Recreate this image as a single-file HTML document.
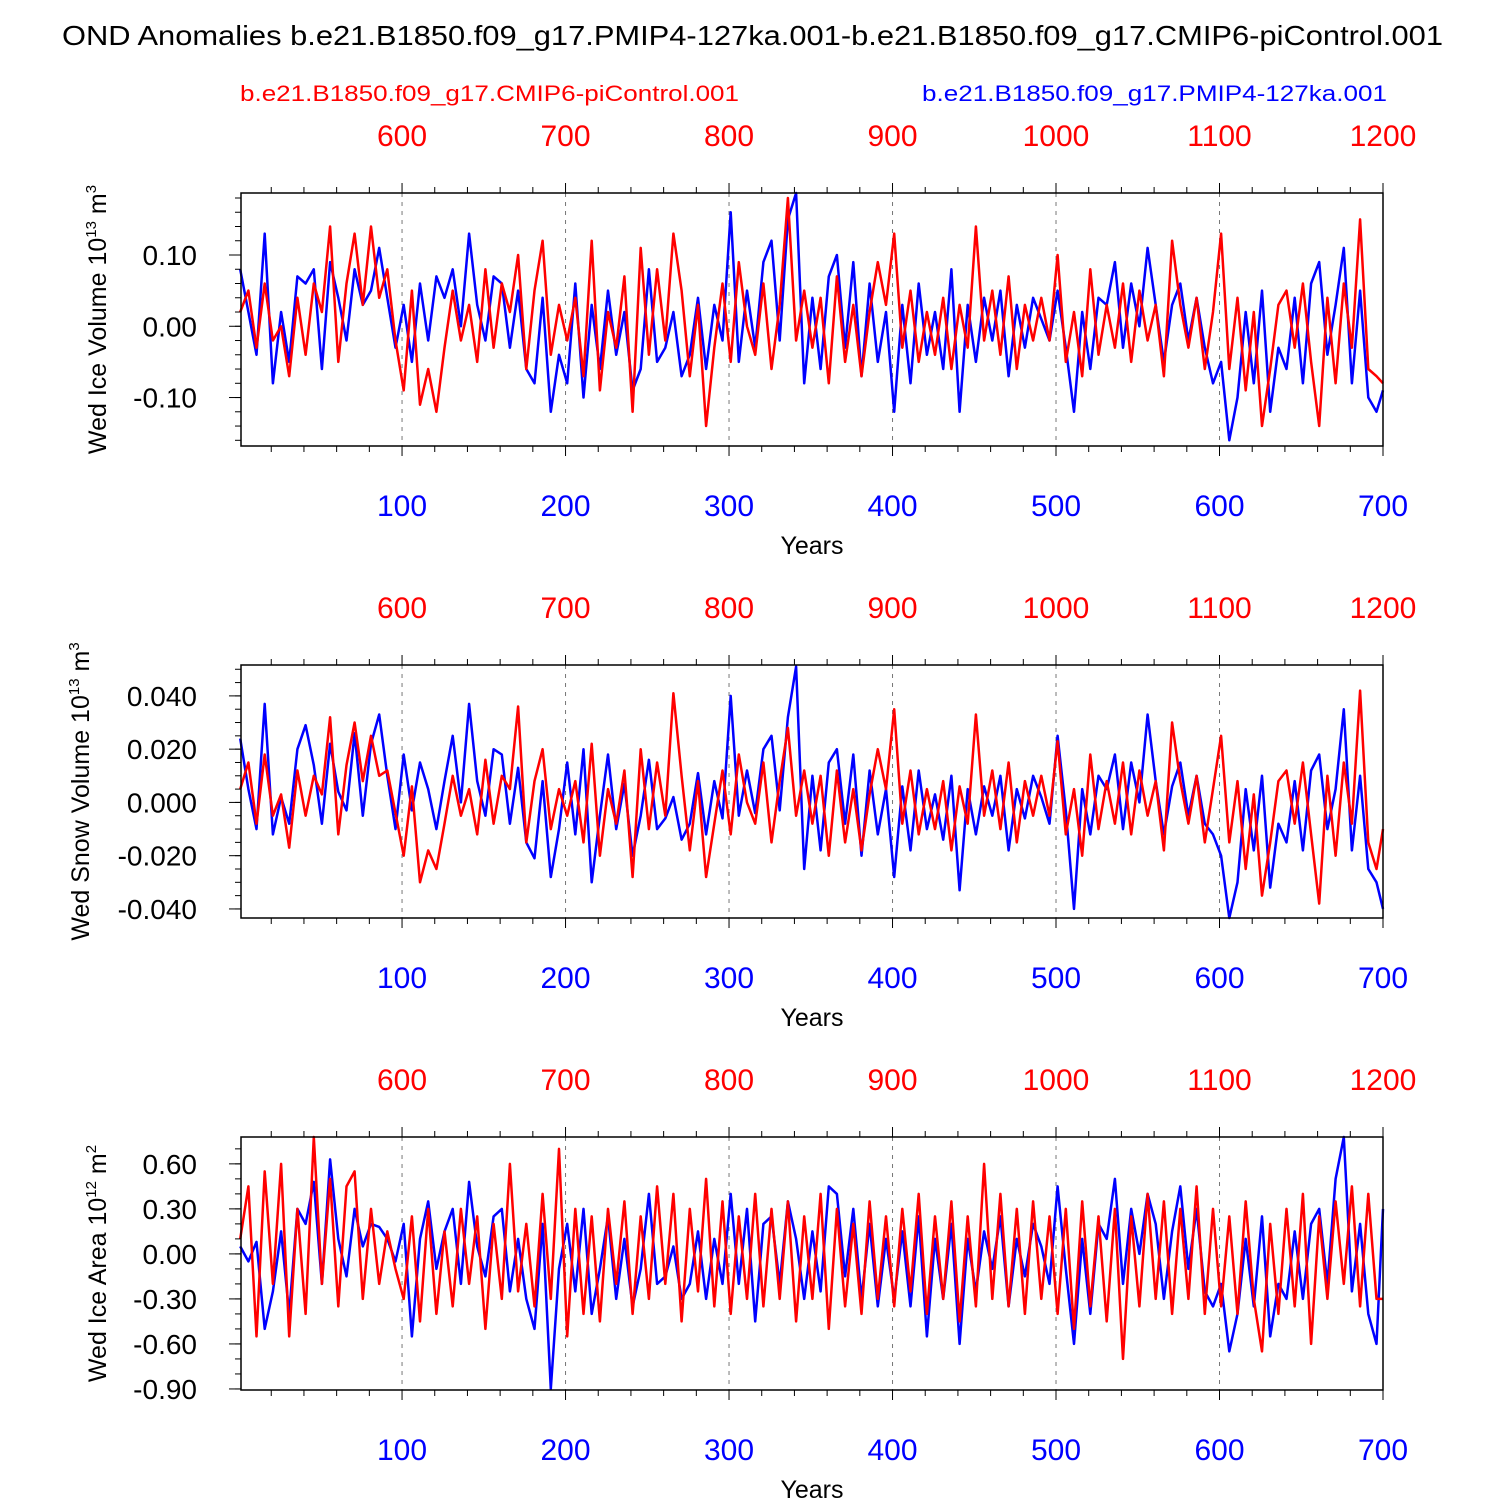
<!DOCTYPE html>
<html><head><meta charset="utf-8"><style>
body{margin:0;background:#fff;}
svg{display:block;font-family:"Liberation Sans",Arial,sans-serif;}
</style></head><body>
<svg id="c" width="1500" height="1500" viewBox="0 0 1500 1500">
<text x="62" y="45" font-size="28" textLength="1381" lengthAdjust="spacingAndGlyphs">OND Anomalies b.e21.B1850.f09_g17.PMIP4-127ka.001-b.e21.B1850.f09_g17.CMIP6-piControl.001</text>
<text x="240" y="101" font-size="22" fill="#ff0000" textLength="499" lengthAdjust="spacingAndGlyphs">b.e21.B1850.f09_g17.CMIP6-piControl.001</text>
<text x="922" y="101" font-size="22" fill="#0000ff" textLength="465" lengthAdjust="spacingAndGlyphs">b.e21.B1850.f09_g17.PMIP4-127ka.001</text>
</svg>
<script>
const iceBlue=[8,2,-4,13,-8,2,-5,7,6,8,-6,9,4,-2,8,3,5,11,4,-3,
3,-5,6,-2,7,4,8,0,13,3,-2,7,6,-3,5,-6,-8,4,-12,-4,
-8,6,-10,3,-6,5,-4,2,-9,-6,8,-5,-3,2,-7,-4,4,-6,3,-2,
16,-5,5,-3,9,12,-2,15,19,-8,4,-6,7,10,-3,9,-7,6,-5,2,
-12,3,-8,6,-4,2,-6,8,-12,3,-5,4,-2,5,-7,3,-3,4,1,-2,
5,-3,-12,2,-6,4,3,9,-3,6,0,11,3,-5,3,6,-2,4,-3,-8,
-5,-16,-10,2,-8,5,-12,-3,-6,4,-8,6,9,-4,3,11,-8,5,-10,-12,-9];
const iceRed=[2,5,-3,6,-2,0,-7,4,-4,6,2,14,-5,6,13,3,14,4,8,-2,
-9,5,-11,-6,-12,-3,5,-2,3,-5,8,-3,6,2,10,-6,5,12,-4,3,
-2,4,-7,12,-9,2,-3,7,-12,11,-4,8,-2,13,5,-7,3,-14,-3,6,
-5,9,0,-4,6,-6,3,18,-2,5,-3,4,-8,7,-5,3,-7,2,9,3,
13,-3,5,-5,2,-4,4,-6,3,-3,14,-2,5,-4,7,-6,3,-2,4,-2,
10,-5,2,-7,8,-4,3,-3,6,-5,5,-2,3,-7,12,3,-3,4,-6,2,
13,-6,4,-9,2,-14,-6,3,5,-3,6,-5,-14,4,-8,6,-3,15,-6,-7,-8];
const snowBlue=[24,5,-10,37,-12,2,-8,20,29,14,-8,22,4,-3,26,-5,22,33,10,-10,
18,-3,15,5,-10,8,25,0,37,8,-5,20,18,-8,13,-15,-21,8,-28,-10,
15,-12,20,-30,-5,18,-10,7,-20,-5,16,-10,-6,2,-14,-8,11,-12,8,-6,
40,-5,12,-4,20,25,-3,32,51,-25,10,-18,15,20,-8,18,-20,12,-12,5,
-28,6,-18,12,-10,3,-14,10,-33,5,-12,6,-5,10,-18,5,-6,10,2,-8,
25,-3,-40,5,-12,10,5,18,-10,15,0,33,8,-12,6,15,-5,10,-8,-12,
-20,-44,-30,5,-18,10,-32,-8,-15,8,-18,12,18,-10,5,35,-18,10,-25,-30,-40];
const snowRed=[5,15,-8,18,-5,3,-17,12,-5,10,3,32,-12,14,30,8,25,10,12,-4,
-20,6,-30,-18,-25,-8,10,-5,5,-12,16,-8,10,5,36,-15,8,20,-10,5,
-5,8,-15,22,-20,5,-8,12,-28,20,-10,15,-5,41,10,-18,8,-28,-8,12,
-12,18,0,-8,15,-15,8,28,-5,12,-8,10,-20,12,-15,5,-18,3,20,5,
35,-8,12,-12,5,-10,8,-18,6,-8,33,-5,12,-10,15,-15,8,-5,10,-5,
23,-12,5,-20,18,-10,8,-8,15,-12,12,-5,8,-18,30,8,-8,10,-15,5,
25,-15,8,-25,3,-35,-15,8,12,-8,15,-12,-38,10,-20,15,-8,42,-15,-25,-10];
const areaBlue=[5,-5,8,-50,-25,15,-40,30,20,48,-20,63,10,-15,30,5,20,18,10,-5,
20,-55,10,35,-10,15,30,-20,48,5,-15,25,30,-25,10,-30,-50,20,-90,-10,
20,-25,30,-40,-10,25,-30,10,-35,-10,40,-20,-15,5,-30,-20,15,-30,10,-20,
40,-20,30,-45,20,25,-20,35,10,-30,15,-25,45,40,-15,30,-30,20,-35,10,
-30,15,-35,25,-55,10,-30,20,-60,10,-25,15,-10,25,-35,10,-15,20,5,-20,
45,-10,-60,10,-40,20,10,50,-20,30,0,40,20,-30,15,45,-10,30,-25,-35,
-20,-65,-40,10,-35,25,-55,-20,-30,15,-30,20,30,-20,50,78,-25,20,-40,-60,30];
const areaRed=[10,45,-55,55,-20,60,-55,30,-40,78,-20,50,-35,45,55,-30,30,-20,15,-10,
-30,25,-45,30,-40,15,-35,30,-20,25,-50,20,-30,60,-25,20,-35,40,-30,70,
-55,30,-40,25,-45,30,-20,35,-40,25,-30,45,-20,40,-45,30,-25,50,-35,35,
-40,25,-30,40,-35,30,-30,35,-45,25,-30,40,-50,30,-35,20,-40,35,-30,25,
-35,30,-25,40,-40,25,-30,35,-45,25,-35,60,-30,40,-35,30,-40,35,-30,25,
-40,30,-50,35,-35,25,-45,30,-70,25,-35,40,-30,35,-40,30,-30,45,-40,30,
-35,25,-40,35,-30,-65,20,-40,30,-35,40,-60,25,-30,35,-20,45,-35,40,-30,-30];
const bottomTicks=[100,200,300,400,500,600,700];
const topTicks=[600,700,800,900,1000,1100,1200];

const NS="http://www.w3.org/2000/svg";
const svg=document.getElementById('c');
function mk(tag,attrs,parent){const e=document.createElementNS(NS,tag);for(const k in attrs)e.setAttribute(k,attrs[k]);(parent||svg).appendChild(e);return e;}
const X0=241,X1=1383,YR0=1.5,YR1=700;
const xs=v=>X0+(v-YR0)/(YR1-YR0)*(X1-X0);

const panels=[
 {top:193,bot:446,ymin:-0.168,ymax:0.187,scale:0.01,ticks:[-0.1,0,0.1],minor:0.02,fmt:v=>v.toFixed(2),blue:iceBlue,red:iceRed,title:"Wed Ice Volume 10",sup:"13",unit:" m",usup:"3",name:"ice-volume",tx:106},
 {top:665,bot:918,ymin:-0.0434,ymax:0.0516,scale:0.001,ticks:[-0.04,-0.02,0,0.02,0.04],minor:0.005,fmt:v=>v.toFixed(3),blue:snowBlue,red:snowRed,title:"Wed Snow Volume 10",sup:"13",unit:" m",usup:"3",name:"snow-volume",tx:89},
 {top:1137,bot:1390,ymin:-0.907,ymax:0.779,scale:0.01,ticks:[-0.9,-0.6,-0.3,0,0.3,0.6],minor:0.1,fmt:v=>v.toFixed(2),blue:areaBlue,red:areaRed,title:"Wed Ice Area 10",sup:"12",unit:" m",usup:"2",name:"ice-area",tx:106}
];

panels.forEach(p=>{
 const g=mk('g',{});
 
 
 const ys=v=>p.bot-(v-p.ymin)/(p.ymax-p.ymin)*(p.bot-p.top);
 bottomTicks.forEach(t=>{
  const l=mk('line',{x1:xs(t),x2:xs(t),y1:p.top,y2:p.bot,stroke:'#777','stroke-width':1,'stroke-dasharray':'4,5'},g);
  
  
 });
 [[p.blue,'#0000ff','blue-series'],[p.red,'#ff0000','red-series']].forEach(([arr,col,nm])=>{
  const pts=arr.map((v,i)=>{const yr=Math.min(1+5*i,700);return xs(yr).toFixed(1)+','+ys(Math.max(p.ymin,Math.min(p.ymax,v*p.scale))).toFixed(1);}).join(' ');
  const pl=mk('polyline',{points:pts,fill:'none',stroke:col,'stroke-width':2.5,'stroke-linejoin':'round'},g);
  
  
 });
 const fr=mk('rect',{x:X0,y:p.top,width:X1-X0,height:p.bot-p.top,fill:'none',stroke:'#000','stroke-width':1.5},g);
 
 
 for(let t=20;t<=700;t+=20){
  const major=t%100===0, L=major?10:6;
  mk('line',{x1:xs(t),x2:xs(t),y1:p.bot,y2:p.bot+L,stroke:'#000','stroke-width':1},g);
  mk('line',{x1:xs(t),x2:xs(t),y1:p.top,y2:p.top-L,stroke:'#000','stroke-width':1},g);
 }
 bottomTicks.forEach(t=>{
  const tx=mk('text',{x:xs(t),y:p.bot+70,'font-size':30,fill:'#0000ff','text-anchor':'middle'},g);
  tx.textContent=t;
  
  
 });
 topTicks.forEach((t,i)=>{
  const tx=mk('text',{x:xs(bottomTicks[i]),y:p.top-47,'font-size':30,fill:'#ff0000','text-anchor':'middle'},g);
  tx.textContent=t;
  
  
 });
 const yt=mk('text',{x:812,y:p.bot+108,'font-size':25,'text-anchor':'middle'},g);
 yt.textContent='Years';
 
 
 const start=Math.ceil(p.ymin/p.minor-1e-6), end=Math.floor(p.ymax/p.minor+1e-6);
 for(let k=start;k<=end;k++){const v=k*p.minor;mk('line',{x1:X0,x2:X0-6,y1:ys(v),y2:ys(v),stroke:'#000','stroke-width':1},g);}
 p.ticks.forEach(v=>{
  mk('line',{x1:X0,x2:X0-12,y1:ys(v),y2:ys(v),stroke:'#000','stroke-width':1},g);
  const tx=mk('text',{x:197,y:ys(v)+10,'font-size':28,'text-anchor':'end'},g);
  tx.textContent=p.fmt(v);
  
  
 });
 const cy=(p.top+p.bot)/2;
 const tt=mk('text',{transform:`translate(${p.tx},${cy}) rotate(-90)`,'font-size':25,'text-anchor':'middle'},g);
 
 
 tt.appendChild(document.createTextNode(p.title));
 const s1=mk('tspan',{dy:-10,'font-size':15},tt);s1.textContent=p.sup;
 const s2=mk('tspan',{dy:10},tt);s2.textContent=p.unit;
 const s3=mk('tspan',{dy:-10,'font-size':15},tt);s3.textContent=p.usup;
});
</script>
</body></html>
